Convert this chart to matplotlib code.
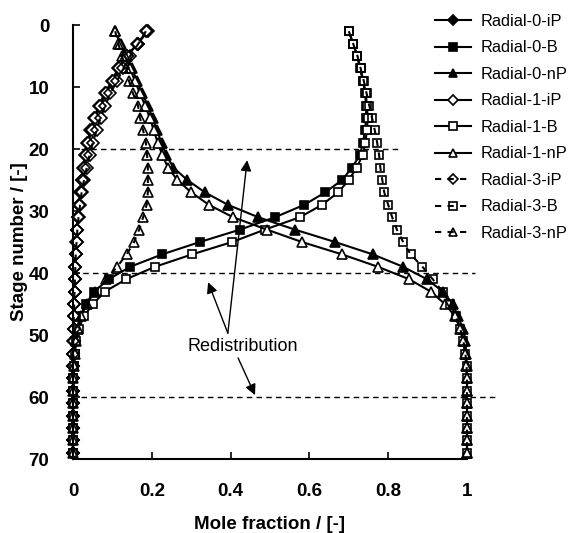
import matplotlib
matplotlib.use("Agg")
import matplotlib.pyplot as plt

plt.rcParams['font.family'] = ['Liberation Sans', 'DejaVu Sans']

stages = list(range(1, 70, 2))

r0_iP = [.190, .165, .137, .114, .099, .080, .066, .053, .044, .036, .030, .026, .022, .018, .015, .012, .010, .008,
         .007, .006, .005, .004, .003, .003, .002, .002, .001, .001, .001, 0, 0, 0, 0, 0, 0]
r0_B = [.700, .711, .721, .728, .736, .741, .744, .744, .741, .736, .728, .708, .683, .640, .587, .513, .424, .322,
        .226, .145, .091, .053, .033, .018, .010, .006, .004, .002, .001, 0, 0, 0, 0, 0, 0]
r0_nP = [.107, .122, .137, .150, .162, .176, .190, .202, .213, .225, .237, .255, .290, .335, .393, .470, .563, .665,
         .761, .838, .898, .939, .964, .977, .990, .996, .998, .999, 1, 1, 1, 1, 1, 1, 1]
r1_iP = [.188, .163, .137, .116, .101, .083, .069, .056, .047, .039, .033, .028, .024, .020, .016, .013, .011, .009,
         .007, .006, .005, .004, .003, .003, .002, .002, .001, .001, .001, 0, 0, 0, 0, 0, 0]
r1_B = [.700, .711, .722, .730, .737, .743, .746, .748, .746, .742, .735, .720, .700, .673, .632, .576, .487, .404,
        .302, .208, .135, .081, .051, .027, .015, .008, .005, .003, .001, 0, 0, 0, 0, 0, 0]
r1_nP = [.107, .120, .133, .145, .157, .170, .183, .195, .205, .215, .227, .241, .265, .300, .345, .406, .492, .581,
         .683, .774, .853, .908, .944, .970, .982, .990, .995, .998, 1, 1, 1, 1, 1, 1, 1]
r3_iP = [.185, .166, .145, .128, .112, .095, .082, .070, .060, .050, .042, .035, .028, .022, .018, .014, .011, .009,
         .007, .006, .005, .004, .003, .002, .002, .001, .001, 0, 0, 0, 0, 0, 0, 0, 0]
r3_B = [.700, .711, .722, .730, .738, .745, .752, .759, .766, .772, .777, .780, .785, .790, .800, .810, .822, .838,
        .857, .887, .913, .938, .958, .972, .983, .991, .996, .999, 1, 1, 1, 1, 1, 1, 1]
r3_nP = [.107, .115, .124, .135, .142, .152, .165, .170, .178, .185, .188, .190, .190, .190, .187, .178, .168, .155,
         .136, .112, .085, .055, .035, .020, .012, .007, .004, .002, .001, 0, 0, 0, 0, 0, 0]

series = [
    ("Radial-0-iP", r0_iP, 'D', 'black', '-'),
    ("Radial-0-B", r0_B, 's', 'black', '-'),
    ("Radial-0-nP", r0_nP, '^', 'black', '-'),
    ("Radial-1-iP", r1_iP, 'D', 'white', '-'),
    ("Radial-1-B", r1_B, 's', 'white', '-'),
    ("Radial-1-nP", r1_nP, '^', 'white', '-'),
    ("Radial-3-iP", r3_iP, 'D', 'none', (0, (3, 3))),
    ("Radial-3-B", r3_B, 's', 'none', (0, (3, 3))),
    ("Radial-3-nP", r3_nP, '^', 'none', (0, (3, 3))),
]
msizes = {'D': 5.8, 's': 6.3, '^': 7.3}

fig = plt.figure(figsize=(5.79, 5.33), dpi=100)
ax = fig.add_axes([73/579, 1-459/533, 394/579, 434/533])

for name, vals, mk, fc, ls in series:
    ax.plot(vals, stages, linestyle=ls, color='black', lw=1.5, marker=mk,
            markersize=msizes[mk], markerfacecolor=fc, markeredgecolor='black',
            markeredgewidth=1.2, label=name, clip_on=False)

# redistribution lines
dash = (0, (4, 3))
ax.plot([0.02, 0.83], [20, 20], color='black', lw=1.0, linestyle=dash, clip_on=False)
ax.plot([0.0, 1.02], [40, 40], color='black', lw=1.0, linestyle=dash, clip_on=False)
ax.plot([0.02, 1.08], [60, 60], color='black', lw=1.0, linestyle=dash, clip_on=False)

ax.text(0.431, 51.9, "Redistribution", fontsize=13, ha='center', va='center')
ap = dict(arrowstyle='-|>', color='black', lw=1.0, mutation_scale=16, shrinkA=0, shrinkB=0)
ax.annotate("", xy=(0.442, 21.8), xytext=(0.393, 49.7), arrowprops=ap)
ax.annotate("", xy=(0.343, 41.5), xytext=(0.393, 49.7), arrowprops=ap)
ax.annotate("", xy=(0.462, 59.7), xytext=(0.419, 53.7), arrowprops=ap)

ax.set_xlim(0, 1)
ax.set_ylim(70, 0)
ax.set_xticks([0, 0.2, 0.4, 0.6, 0.8, 1])
ax.set_xticklabels(['0', '0.2', '0.4', '0.6', '0.8', '1'])
ax.set_yticks(range(0, 71, 10))
ax.spines['top'].set_visible(False)
ax.spines['right'].set_visible(False)
for s in ('left', 'bottom'):
    ax.spines[s].set_linewidth(1.5)
ax.tick_params(axis='both', direction='in', length=5, width=1.2, labelsize=13.5)
ax.tick_params(axis='x', pad=17.5)
ax.tick_params(axis='y', pad=17)
for lbl in ax.get_xticklabels() + ax.get_yticklabels():
    lbl.set_fontweight('bold')

ax.set_xlabel("Mole fraction / [-]", fontsize=13.5, fontweight='bold')
ax.set_ylabel("Stage number / [-]", fontsize=13.5, fontweight='bold')
ax.xaxis.set_label_coords(0.5, -0.131)
ax.yaxis.set_label_coords(-0.114, 0.5)

leg = ax.legend(loc='upper left', bbox_to_anchor=(435/579, 1-14/533), bbox_transform=fig.transFigure,
                frameon=False, fontsize=11.8, handlelength=2.2, handletextpad=0.6,
                labelspacing=0.7, borderpad=0, borderaxespad=0, markerscale=0.85)

fig.savefig("out.png", dpi=100)
